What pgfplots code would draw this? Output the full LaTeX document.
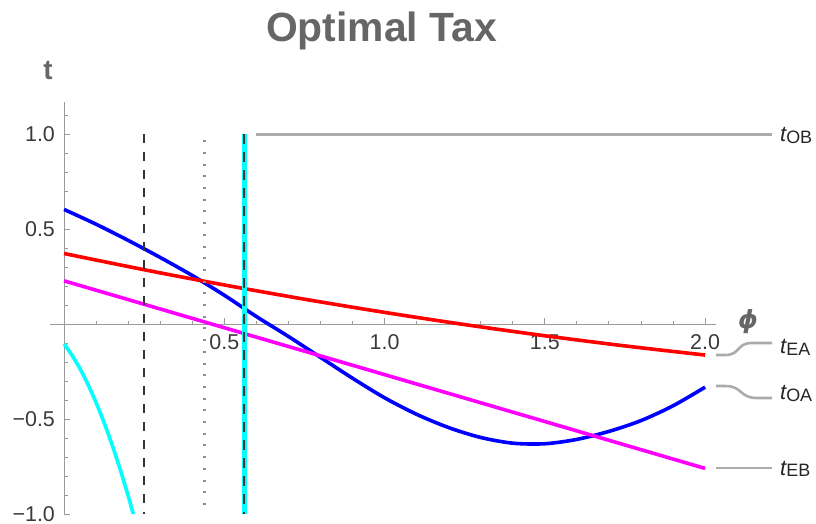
\documentclass[border=0pt]{standalone}
\usepackage{fontspec}
\setmainfont{Liberation Sans}
\newfontfamily\djv{DejaVu Sans}
\usepackage{pgfplots}
\pgfplotsset{compat=1.18}

\definecolor{axisgray}{HTML}{9A9A9A}
\definecolor{dotgray}{HTML}{8E8E8E}
\definecolor{titlegray}{HTML}{666666}
\definecolor{callgray}{HTML}{ABABAB}
\definecolor{ticktext}{HTML}{3A3A3A}
\definecolor{dashdark}{HTML}{333333}
\definecolor{pRed}{RGB}{255,0,0}
\definecolor{pBlue}{RGB}{0,0,255}
\definecolor{pMagenta}{RGB}{255,0,255}
\definecolor{pCyan}{RGB}{0,255,255}

\newcommand{\curvelabel}[1]{{\fontsize{22}{22}\selectfont\itshape t}\raisebox{-1.5bp}{\fontsize{18}{18}\selectfont #1}}

\begin{document}
\begin{tikzpicture}
\begin{axis}[
  at={(0,0)}, anchor=south west,
  scale only axis, width=666bp, height=412bp,
  xmin=-0.044, xmax=2.034, ymin=-1.0, ymax=1.17,
  axis lines=middle,
  axis line style={-, draw=axisgray, line width=1bp},
  clip=false,
  tick align=inside,
  major tick length=6bp, minor tick length=3.5bp,
  every tick/.style={draw=axisgray, line width=1bp},
  xtick={0.5,1.0,1.5,2.0}, xticklabels={0.5,1.0,1.5,2.0},
  ytick={-1.0,-0.5,0.5,1.0}, yticklabels={−1.0,−0.5,0.5,1.0},
  minor xtick={0.1,0.2,0.3,0.4,0.6,0.7,0.8,0.9,1.1,1.2,1.3,1.4,1.6,1.7,1.8,1.9},
  minor ytick={-0.9,-0.8,-0.7,-0.6,-0.4,-0.3,-0.2,-0.1,0.1,0.2,0.3,0.4,0.6,0.7,0.8,0.9,1.1},
  tick label style={font=\fontsize{21.5}{22}\selectfont, text=ticktext},
  xticklabel style={anchor=north, inner sep=0pt, yshift=-10bp},
  yticklabel style={anchor=east, inner sep=0pt, xshift=-9bp},
]

% t_OA
\addplot[pBlue, line width=3.6bp, smooth] coordinates {
  (0.0,0.604) (0.1,0.526) (0.2,0.441) (0.3,0.351) (0.4,0.256) (0.5,0.152)
  (0.6,0.040) (0.7,-0.065) (0.8,-0.175) (0.9,-0.285) (1.0,-0.388)
  (1.1,-0.475) (1.2,-0.545) (1.3,-0.597) (1.4,-0.627) (1.5,-0.630)
  (1.6,-0.607) (1.7,-0.565) (1.8,-0.508) (1.9,-0.430) (2.0,-0.332)};

% t_EA
\addplot[pRed, line width=3.6bp, smooth] coordinates {
  (0.0,0.372) (0.25,0.2864) (0.5,0.2062) (0.75,0.1313) (1.0,0.0618)
  (1.25,-0.0024) (1.5,-0.0612) (1.75,-0.1147) (2.0,-0.1628)};

% t_EB
\addplot[pMagenta, line width=3.6bp] coordinates {(0.0,0.228) (2.0,-0.760)};

% t_OB (only the part inside the plotted range)
\addplot[pCyan, line width=3.6bp, smooth] coordinates {
  (0.0,-0.104) (0.025,-0.165) (0.05,-0.236) (0.075,-0.320) (0.1,-0.414)
  (0.125,-0.520) (0.15,-0.637) (0.175,-0.765) (0.2,-0.905) (0.2157,-1.0)};

% thresholds in phi
\addplot[dashdark, line width=1.6bp, dash pattern=on 9bp off 9bp]
  coordinates {(0.25,1.0) (0.25,-1.0)};
\addplot[dotgray, line width=2.4bp, dash pattern=on 2bp off 9.7bp, dash phase=5.7bp]
  coordinates {(0.438,1.0) (0.438,-1.0)};
\addplot[pCyan, line width=5bp] coordinates {(0.5616,1.0) (0.5616,-1.0)};
\addplot[dashdark, line width=1.5bp, dash pattern=on 10bp off 8bp]
  coordinates {(0.5616,1.0) (0.5616,-1.0)};

% upper branch of t_OB
\addplot[callgray, line width=2.8bp] coordinates {(0.599,1.0) (2.209,1.0)};
\end{axis}

% callout leaders
\draw[callgray, line width=2.6bp] (666bp,159bp) -- (675bp,159bp)
  .. controls (691bp,159bp) and (686bp,171bp) .. (702bp,171bp) -- (722bp,171bp);
\draw[callgray, line width=2.6bp] (666bp,128bp) -- (675bp,128bp)
  .. controls (693bp,128bp) and (689bp,116bp) .. (707bp,116bp) -- (722bp,116bp);
\draw[callgray, line width=2.6bp] (666bp,46bp) -- (722bp,46bp);

% curve labels
\node[anchor=base west, inner sep=0pt, text=black!85] at (730bp,372bp) {\curvelabel{OB}};
\node[anchor=base west, inner sep=0pt, text=black!85] at (730bp,160bp) {\curvelabel{EA}};
\node[anchor=base west, inner sep=0pt, text=black!85] at (730bp,114bp) {\curvelabel{OA}};
\node[anchor=base west, inner sep=0pt, text=black!85] at (730bp,39bp) {\curvelabel{EB}};

% title and axis labels
\node[anchor=base, inner sep=0pt, text=titlegray, font=\fontsize{41}{41}\selectfont\bfseries]
  at (331.5bp,472bp) {Optimal Tax};
\node[anchor=base, inner sep=0pt, text=titlegray, font=\fontsize{28}{28}\selectfont\bfseries]
  at (-2bp,434bp) {t};
\node[anchor=center, inner sep=0pt, text=titlegray]
  at (698bp,192bp) {\djv\bfseries\itshape\fontsize{25}{25}\selectfont ϕ};

\pgfresetboundingbox
\path (-50bp,-10bp) rectangle (766bp,514bp);
\end{tikzpicture}
\end{document}
